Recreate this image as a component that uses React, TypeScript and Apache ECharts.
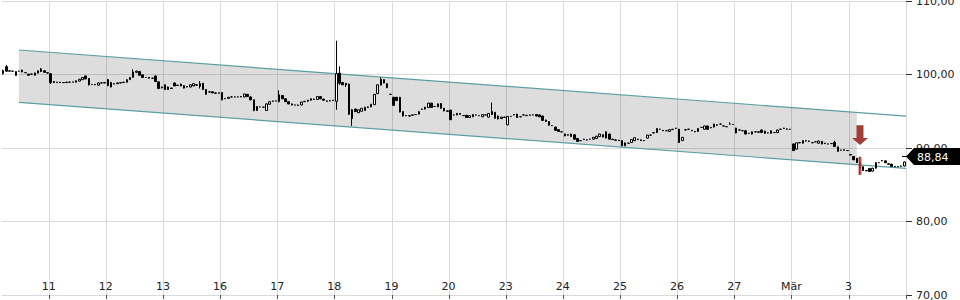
import React, { useEffect, useRef } from 'react';
import * as echarts from 'echarts';

type C = [number, number, number, number]; // open, close, low, high

const dayLabels = ['10', '11', '12', '13', '16', '17', '18', '19', '20', '23', '24', '25', '26', '27', 'Mär', '3'];
const firstDayOffset = 3; // slots of the first (partial) day that lie before the chart

const day10: C[] = [
  [100.1, 100.55, 100.0, 100.65], [101.05, 100.45, 100.4, 101.3], [100.45, 100.5, 100.4, 100.55],
  [100.45, 100.45, 100.4, 100.5], [99.85, 100.4, 99.8, 100.45], [100.45, 100.45, 100.4, 100.5],
  [100.6, 100.35, 100.3, 100.65], [100.25, 100.25, 100.2, 100.3], [100.05, 99.9, 99.85, 100.1],
  [100.05, 100.05, 100.0, 100.1], [99.9, 100.2, 99.85, 100.25], [100.2, 100.5, 100.15, 100.55],
  [100.75, 100.4, 100.35, 100.9], [100.5, 100.3, 100.25, 100.55], [100.25, 100.2, 100.15, 100.3],
];
const day11: C[] = [
  [100.1, 98.9, 98.7, 100.2], [99.05, 98.9, 98.85, 99.1], [98.9, 98.95, 98.9, 99.0],
  [98.95, 98.9, 98.85, 99.0], [98.9, 98.9, 98.85, 98.95], [98.9, 98.95, 98.9, 99.0],
  [98.95, 98.95, 98.9, 99.0], [98.95, 99.0, 98.95, 99.05], [98.95, 99.15, 98.9, 99.2],
  [99.1, 99.35, 99.05, 99.4], [99.3, 99.6, 99.25, 99.65], [99.8, 99.4, 99.35, 99.85],
  [99.45, 98.6, 98.5, 99.5], [98.65, 98.65, 98.6, 98.7], [98.65, 98.6, 98.55, 98.7],
  [98.55, 98.85, 98.5, 98.9], [98.85, 98.85, 98.8, 98.9], [98.85, 98.9, 98.8, 98.95],
];
const day12: C[] = [
  [99.3, 98.5, 98.4, 99.4], [98.9, 98.3, 98.25, 99.0], [98.7, 98.75, 98.65, 98.8],
  [98.75, 98.85, 98.7, 98.9], [98.85, 98.9, 98.8, 98.95], [98.9, 98.95, 98.85, 99.0],
  [98.95, 99.3, 98.9, 99.35], [99.3, 99.6, 99.25, 99.65], [99.6, 100.35, 99.55, 100.7],
  [100.3, 100.45, 100.2, 100.55], [100.4, 99.9, 99.85, 100.5], [99.95, 99.6, 99.55, 100.0],
  [99.6, 99.6, 99.55, 99.65], [99.6, 99.5, 99.45, 99.65], [99.5, 99.5, 99.45, 99.55],
  [99.8, 99.05, 99.0, 99.85], [99.0, 98.1, 98.0, 99.05], [98.3, 98.2, 98.1, 98.35],
];
const day13: C[] = [
  [98.6, 97.95, 97.9, 98.65], [97.95, 98.3, 97.9, 98.35], [98.15, 98.1, 98.05, 98.2],
  [98.85, 98.45, 98.4, 98.9], [98.5, 98.55, 98.45, 98.6], [98.7, 98.45, 98.4, 98.75],
  [98.15, 98.5, 98.1, 98.55], [98.35, 98.3, 98.25, 98.4], [98.3, 98.6, 98.25, 98.65],
  [98.45, 98.75, 98.4, 98.8], [98.6, 98.55, 98.5, 98.65], [98.75, 98.4, 98.1, 99.1],
  [98.8, 97.95, 97.9, 98.85], [97.95, 97.3, 97.25, 98.0], [97.6, 97.65, 97.55, 97.7],
  [97.65, 97.5, 97.45, 97.7], [97.5, 97.45, 97.4, 97.55], [97.5, 97.45, 97.4, 97.55],
];
const day16: C[] = [
  [97.55, 96.55, 96.5, 97.6], [96.7, 96.75, 96.65, 96.8], [96.75, 96.9, 96.7, 96.95],
  [96.95, 96.95, 96.9, 97.0], [96.95, 96.95, 96.9, 97.0], [96.95, 96.95, 96.9, 97.0],
  [96.95, 97.0, 96.9, 97.05], [96.95, 97.35, 96.9, 97.4], [97.3, 97.0, 96.95, 97.35],
  [96.95, 96.55, 96.5, 97.0], [96.55, 95.1, 95.0, 96.6], [95.1, 95.65, 95.05, 95.7],
  [95.6, 95.6, 95.55, 95.65], [95.55, 95.55, 95.5, 95.6], [95.1, 96.0, 95.05, 96.05],
  [95.95, 96.3, 95.9, 96.35], [96.35, 96.4, 96.3, 96.45], [96.4, 96.4, 96.35, 96.45],
];
const day17: C[] = [
  [96.3, 97.25, 96.2, 97.85], [97.15, 96.7, 96.65, 97.2], [96.7, 96.3, 96.25, 96.75],
  [96.3, 96.0, 95.95, 96.35], [96.0, 95.85, 95.8, 96.05], [95.85, 95.85, 95.8, 95.9],
  [95.85, 95.8, 95.75, 95.9], [95.85, 96.25, 95.8, 96.3], [96.3, 96.35, 96.25, 96.4],
  [96.35, 96.5, 96.3, 96.55], [96.5, 96.7, 96.45, 96.75], [96.65, 96.6, 96.55, 96.7],
  [96.6, 97.0, 96.55, 97.05], [97.0, 96.7, 96.65, 97.05], [96.65, 96.5, 96.45, 96.7],
  [96.4, 96.35, 96.3, 96.45], [96.4, 96.45, 96.35, 96.5], [96.45, 96.5, 96.4, 96.55],
];
const day18: C[] = [
  [96.35, 100.1, 95.2, 104.6], [100.2, 98.8, 98.6, 101.1], [98.9, 98.6, 98.55, 99.0],
  [98.8, 98.6, 98.3, 98.85], [98.7, 94.6, 94.5, 98.75], [94.0, 95.2, 93.0, 95.3],
  [95.3, 94.95, 94.9, 95.35], [94.8, 95.2, 94.75, 95.25], [95.0, 95.4, 94.95, 95.45],
  [95.1, 95.55, 95.05, 95.6], [95.5, 95.6, 95.45, 95.65], [95.6, 95.95, 95.55, 96.0],
  [95.9, 97.3, 95.85, 97.35], [97.4, 98.6, 97.35, 98.65], [98.55, 99.35, 98.5, 99.6],
  [99.3, 98.85, 98.8, 99.35], [98.75, 98.2, 98.15, 98.8], [97.3, 97.3, 97.25, 97.35],
];
const day19: C[] = [
  [96.9, 95.8, 95.75, 96.95], [96.9, 96.45, 96.4, 96.95], [96.9, 94.9, 94.85, 96.95],
  [94.95, 94.35, 94.3, 95.0], [94.4, 94.4, 94.35, 94.45], [94.4, 94.35, 94.3, 94.45],
  [94.45, 94.5, 94.4, 94.55], [94.55, 94.55, 94.5, 94.6], [94.6, 94.95, 94.55, 95.0],
  [95.25, 95.3, 95.2, 95.35], [95.3, 95.55, 95.25, 95.6], [95.5, 96.1, 95.45, 96.15],
  [96.1, 95.5, 95.45, 96.15], [95.65, 95.65, 95.6, 95.7], [95.6, 96.0, 95.55, 96.05],
  [96.05, 95.4, 95.35, 96.1], [95.4, 95.05, 95.0, 95.45], [95.05, 95.0, 94.95, 95.1],
];
const day20: C[] = [
  [95.15, 93.85, 93.8, 95.2], [94.5, 94.5, 94.45, 94.55], [94.5, 94.72, 94.45, 94.75],
  [94.7, 94.58, 94.55, 94.75], [94.42, 94.4, 94.35, 94.45], [94.45, 94.15, 94.1, 94.5],
  [94.15, 94.4, 94.1, 94.45], [94.25, 94.55, 94.2, 94.6], [94.5, 94.5, 94.45, 94.55],
  [94.4, 94.4, 94.35, 94.45], [94.25, 94.55, 94.2, 94.6], [94.5, 94.5, 94.45, 94.55],
  [94.2, 94.7, 94.15, 94.75], [94.95, 94.55, 94.5, 96.2], [94.85, 94.05, 94.0, 94.9],
  [94.35, 93.95, 93.9, 94.4], [94.0, 94.2, 93.95, 94.25], [94.2, 94.15, 94.1, 94.25],
];
const day23: C[] = [
  [93.15, 94.3, 93.1, 94.35], [94.3, 94.3, 94.25, 94.35], [94.5, 94.55, 94.45, 94.6],
  [94.6, 94.15, 94.1, 94.65], [94.25, 94.25, 94.2, 94.3], [94.5, 94.5, 94.45, 94.55],
  [94.4, 94.45, 94.35, 94.5], [94.45, 94.5, 94.4, 94.55], [94.5, 94.5, 94.45, 94.55],
  [94.55, 94.35, 94.3, 94.6], [94.5, 94.25, 94.2, 94.55], [94.35, 93.75, 93.7, 94.4],
  [93.8, 93.6, 93.55, 93.85], [93.6, 93.1, 93.05, 93.65], [93.05, 93.05, 93.0, 93.1],
  [92.85, 92.4, 92.35, 92.9], [92.5, 92.25, 92.2, 92.55], [92.2, 92.2, 92.15, 92.25],
];
const day24: C[] = [
  [91.65, 91.9, 91.6, 91.95], [91.8, 91.75, 91.7, 91.85], [91.55, 91.9, 91.5, 91.95],
  [91.8, 91.2, 91.15, 91.85], [91.3, 90.9, 90.85, 91.35], [91.0, 91.0, 90.95, 91.05],
  [91.15, 91.2, 91.1, 91.25], [91.1, 91.1, 91.05, 91.15], [91.2, 91.2, 91.15, 91.25],
  [91.2, 91.45, 91.15, 91.5], [91.3, 91.6, 91.25, 91.65], [91.55, 91.9, 91.5, 91.95],
  [91.8, 91.5, 91.45, 91.85], [92.2, 91.35, 91.3, 92.25], [91.9, 91.2, 91.15, 91.95],
  [91.2, 91.15, 91.1, 91.25], [91.1, 91.05, 91.0, 91.15], [91.05, 91.0, 90.95, 91.1],
];
const day25: C[] = [
  [91.0, 90.3, 90.25, 91.05], [90.3, 90.7, 90.25, 90.75], [90.65, 90.65, 90.6, 90.7],
  [90.75, 91.15, 90.7, 91.2], [91.0, 91.4, 90.95, 91.45], [91.2, 91.15, 91.1, 91.25],
  [91.1, 91.0, 90.95, 91.15], [91.0, 91.0, 90.95, 91.05], [91.35, 91.75, 91.3, 91.8],
  [91.75, 91.75, 91.7, 91.8], [92.05, 92.1, 92.0, 92.15], [92.1, 92.65, 92.05, 92.7],
  [92.55, 92.55, 92.5, 92.6], [92.4, 92.35, 92.3, 92.45], [92.35, 92.35, 92.3, 92.4],
  [92.25, 92.5, 92.2, 92.55], [92.5, 92.55, 92.45, 92.6], [92.65, 92.7, 92.6, 92.75],
];
const day26: C[] = [
  [92.55, 90.75, 90.7, 92.6], [91.0, 91.45, 90.95, 91.5], [92.45, 92.5, 92.4, 92.55],
  [92.55, 92.55, 92.5, 92.6], [92.4, 92.35, 92.3, 92.45], [92.25, 92.2, 92.15, 92.3],
  [92.25, 92.65, 92.2, 92.7], [92.8, 92.8, 92.75, 92.85], [92.55, 93.0, 92.5, 93.05],
  [93.0, 92.55, 92.5, 93.05], [92.75, 92.8, 92.7, 92.85], [92.85, 93.25, 92.8, 93.3],
  [93.15, 93.1, 93.05, 93.2], [93.25, 93.25, 93.2, 93.3], [93.0, 93.0, 92.95, 93.05],
  [92.9, 92.9, 92.85, 92.95], [93.25, 93.25, 93.2, 93.5], [93.2, 93.2, 93.15, 93.25],
];
const day27: C[] = [
  [92.7, 92.05, 92.0, 92.75], [92.45, 92.45, 92.4, 92.5], [92.35, 92.35, 92.3, 92.4],
  [92.35, 91.9, 91.85, 92.4], [92.0, 92.0, 91.95, 92.05], [91.9, 92.2, 91.85, 92.25],
  [92.2, 92.2, 92.15, 92.25], [92.2, 92.15, 92.1, 92.25], [92.45, 92.1, 92.05, 92.5],
  [92.3, 92.0, 91.95, 92.35], [92.05, 92.05, 92.0, 92.1], [92.0, 92.35, 91.95, 92.4],
  [92.1, 92.1, 92.05, 92.15], [92.1, 92.45, 92.05, 92.5], [92.55, 92.55, 92.5, 92.6],
  [92.65, 92.7, 92.6, 92.75], [92.6, 92.55, 92.5, 92.65], [92.55, 92.55, 92.5, 92.6],
];
const dayMar2: C[] = [
  [90.55, 89.65, 89.6, 90.6], [89.85, 90.7, 89.8, 90.75], [90.7, 90.75, 90.65, 90.8],
  [90.65, 91.0, 90.6, 91.05], [90.95, 91.0, 90.9, 91.05], [90.95, 90.9, 90.85, 91.0],
  [90.75, 90.7, 90.65, 90.8], [90.85, 90.85, 90.8, 90.9], [90.65, 90.95, 90.6, 91.0],
  [90.9, 90.55, 90.5, 90.95], [90.65, 90.6, 90.55, 90.7], [90.55, 90.55, 90.5, 90.6],
  [90.6, 90.6, 90.55, 90.65], [90.75, 90.2, 90.15, 91.0], [90.15, 89.55, 89.5, 90.2],
  [89.7, 89.7, 89.65, 89.75], [89.75, 89.7, 89.65, 89.8], [89.65, 89.65, 89.6, 89.7],
];
const dayMar3: C[] = [
  [89.1, 89.05, 89.0, 89.15], [88.85, 88.4, 88.35, 88.9], [88.6, 88.0, 87.95, 88.65],
  [88.0, 87.3, 86.35, 88.8], [87.45, 86.95, 86.9, 87.5], [86.95, 86.9, 86.85, 87.0],
  [87.2, 86.8, 86.75, 87.25], [86.85, 87.25, 86.8, 87.3], [87.25, 88.0, 87.2, 88.05],
  [88.0, 88.0, 87.95, 88.05], [88.25, 88.3, 88.2, 88.35], [88.25, 88.0, 87.95, 88.3],
  [87.85, 87.8, 87.75, 87.9], [87.8, 87.5, 87.45, 87.85], [87.5, 87.45, 87.4, 87.55],
  [87.45, 87.5, 87.4, 87.55], [87.5, 87.55, 87.45, 87.6], [87.55, 88.1, 87.5, 88.15],
];

const days: C[][] = [day10, day11, day12, day13, day16, day17, day18, day19, day20, day23, day24, day25, day26, day27, dayMar2, dayMar3];

// trend channel (candle index, upper value, lower value)
const channelIdx = [5, 284];
const channelUpper = [103.33, 94.36];
const channelLower = [96.22, 87.25];
const channelFillEnd = 269;

// breakout signal
const signalIdx = 270;
const signalRange = [88.8, 86.35];
const arrowRange = [93.1, 90.4];

const lastPrice = 88.84;
const yMin = 70;
const yMax = 110;
const yStep = 10;

const FONT = 'DejaVu Sans';
const TEAL = '#5a9fa5';

const categories: string[] = [];
const candles: number[][] = [];
days.forEach((d, di) => {
  const start = di === 0 ? firstDayOffset : 0;
  d.forEach((c, j) => {
    categories.push(dayLabels[di] + '#' + (start + j));
    candles.push([c[0], c[1], c[2], c[3]]);
  });
});

const isDayStart = (_i: number, v: string) => String(v).endsWith('#0');
const fmt = (v: number) => v.toFixed(2).replace('.', ',');

export default function App() {
  const ref = useRef<HTMLDivElement>(null);
  useEffect(() => {
    document.body.style.margin = '0';
    const chart = echarts.init(ref.current!, undefined, { renderer: 'svg' });
    const option: any = {
      animation: false,
      backgroundColor: '#fff',
      textStyle: { fontFamily: FONT },
      grid: { left: 1.5, right: 54, top: 1, bottom: 5, containLabel: false, outerBoundsMode: 'none' },
      xAxis: {
        type: 'category',
        data: categories,
        boundaryGap: true,
        axisLine: { show: false },
        axisTick: { show: true, interval: isDayStart, length: 4, lineStyle: { color: '#555' } },
        axisLabel: {
          inside: true,
          margin: 3,
          interval: isDayStart,
          color: '#222',
          fontSize: 11,
          fontFamily: FONT,
          padding: [0, 4, 0, 0],
          formatter: (v: string) => String(v).split('#')[0],
        },
        splitLine: { show: true, interval: isDayStart, lineStyle: { color: '#dadada', width: 1 } },
      },
      yAxis: {
        type: 'value',
        position: 'right',
        min: yMin,
        max: yMax,
        interval: yStep,
        axisLine: { show: false },
        axisTick: { show: true, length: 6, lineStyle: { color: '#333' } },
        axisLabel: { margin: 10, color: '#222', fontSize: 11, fontFamily: FONT, formatter: fmt },
        splitLine: { show: true, lineStyle: { color: '#dadada', width: 1 } },
      },
      series: [
        {
          type: 'custom',
          z: 1,
          silent: true,
          data: [[0, 90]],
          encode: { x: 0, y: 1 },
          renderItem: (params: any, api: any) => {
            const cs = params.coordSys;
            const right = cs.x + cs.width;
            const u0 = api.coord([channelIdx[0], channelUpper[0]]);
            const u1 = api.coord([channelIdx[1], channelUpper[1]]);
            const l0 = api.coord([channelIdx[0], channelLower[0]]);
            const l1 = api.coord([channelIdx[1], channelLower[1]]);
            const yAt = (a: number[], b: number[], x: number) => a[1] + ((x - a[0]) / (b[0] - a[0])) * (b[1] - a[1]);
            const fx = api.coord([channelFillEnd, channelUpper[1]])[0];
            return {
              type: 'group',
              children: [
                {
                  type: 'polygon',
                  shape: { points: [u0, [fx, yAt(u0, u1, fx)], [fx, yAt(l0, l1, fx)], l0] },
                  style: { fill: 'rgba(0,0,0,0.135)' },
                },
                {
                  type: 'line',
                  shape: { x1: u0[0], y1: u0[1], x2: right, y2: yAt(u0, u1, right) },
                  style: { stroke: TEAL, lineWidth: 1.2 },
                },
                {
                  type: 'line',
                  shape: { x1: l0[0], y1: l0[1], x2: right, y2: yAt(l0, l1, right) },
                  style: { stroke: TEAL, lineWidth: 1.2 },
                },
              ],
            };
          },
        },
        {
          type: 'candlestick',
          z: 2,
          data: candles,
          barWidth: 2,
          itemStyle: {
            color: '#ffffff',
            color0: '#000000',
            borderColor: '#000000',
            borderColor0: '#000000',
            borderColorDoji: '#000000',
            borderWidth: 1,
          },
        },
        {
          type: 'custom',
          z: 5,
          silent: true,
          data: [[0, 90]],
          encode: { x: 0, y: 1 },
          renderItem: (params: any, api: any) => {
            const cs = params.coordSys;
            const right = cs.x + cs.width;
            const [sx, sTop] = api.coord([signalIdx, signalRange[0]]);
            const sBot = api.coord([signalIdx, signalRange[1]])[1];
            const aTop = api.coord([signalIdx, arrowRange[0]])[1];
            const aTip = api.coord([signalIdx, arrowRange[1]])[1];
            const py = api.coord([0, lastPrice])[1];
            const W = api.getWidth();
            return {
              type: 'group',
              children: [
                {
                  type: 'rect',
                  shape: { x: sx - 1.5, y: sTop, width: 3, height: sBot - sTop },
                  style: { fill: 'rgba(178,58,52,0.85)' },
                },
                {
                  type: 'polygon',
                  shape: {
                    points: [
                      [sx - 3.5, aTop], [sx + 3.5, aTop], [sx + 3.5, aTip - 7], [sx + 8, aTip - 7],
                      [sx, aTip], [sx - 8, aTip - 7], [sx - 3.5, aTip - 7],
                    ],
                  },
                  style: { fill: '#a23e38' },
                },
                {
                  type: 'line',
                  shape: { x1: right - 4, y1: py, x2: right + 1, y2: py },
                  style: { stroke: '#000', lineWidth: 1 },
                },
                {
                  type: 'polygon',
                  shape: {
                    points: [[right, py], [right + 8, py - 8.5], [W, py - 8.5], [W, py + 8.5], [right + 8, py + 8.5]],
                  },
                  style: { fill: '#000' },
                },
                {
                  type: 'text',
                  style: {
                    x: right + 11,
                    y: py + 0.5,
                    text: fmt(lastPrice),
                    fill: '#fff',
                    font: '11px "DejaVu Sans"',
                    verticalAlign: 'middle',
                    align: 'left',
                  },
                },
              ],
            };
          },
        },
      ],
    };
    chart.setOption(option);
    return () => chart.dispose();
  }, []);
  return <div ref={ref} style={{ width: 960, height: 300 }} />;
}
